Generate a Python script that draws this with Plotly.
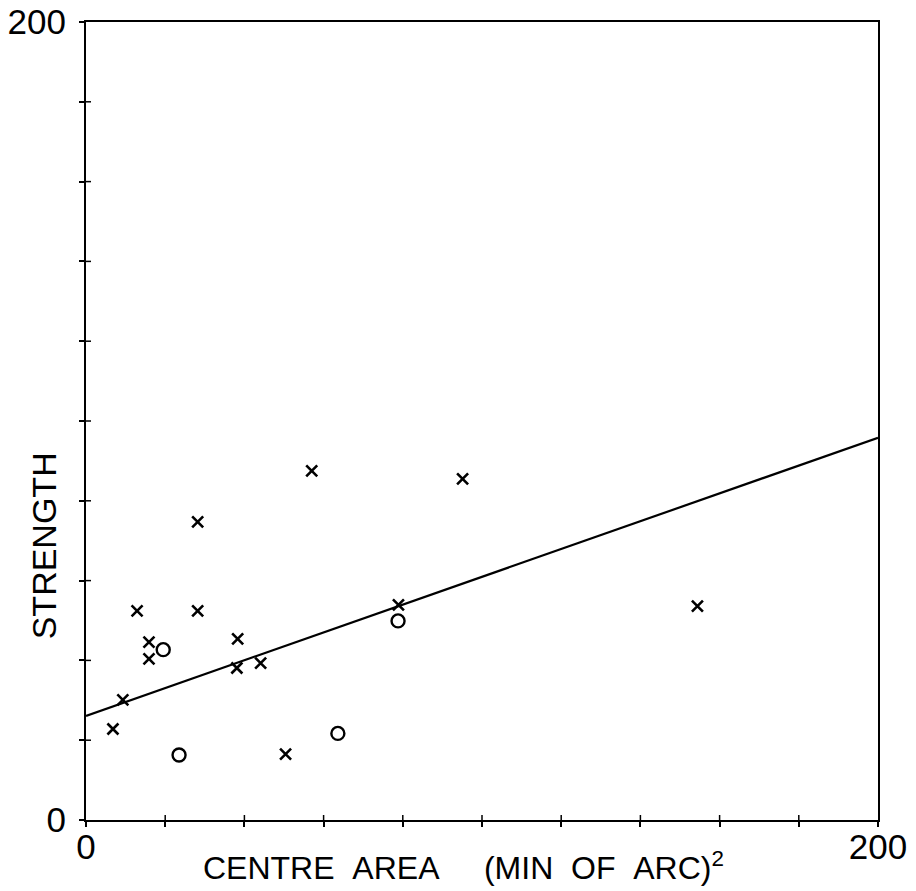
import plotly.graph_objects as go

# Cell measurements: centre area (min of arc)^2 vs strength
cross_area = [6.8, 9.3, 12.9, 15.9, 15.9, 28.2, 28.2, 38.3, 38.1, 44.1, 50.4, 57.0, 78.9, 95.1, 154.4]
cross_strength = [22.8, 30.1, 52.4, 44.6, 40.4, 74.7, 52.4, 45.4, 38.1, 39.3, 16.5, 87.5, 53.9, 85.5, 53.6]

circle_area = [19.5, 23.5, 63.6, 78.8]
circle_strength = [42.7, 16.3, 21.7, 49.9]

# Fitted regression line end points
fit_area = [0, 200]
fit_strength = [26.1, 95.8]

tick_vals = list(range(0, 201, 20))
tick_text = ["0"] + [""] * 9 + ["200"]

FONT = "Liberation Sans, Arial, sans-serif"
TICK_IN = 5  # inward half of the crossing tick marks, px

fig = go.Figure()
fig.add_trace(go.Scatter(x=fit_area, y=fit_strength, mode="lines",
                         line=dict(color="black", width=2.2), showlegend=False))
fig.add_trace(go.Scatter(x=cross_area, y=cross_strength, mode="markers",
                         marker=dict(symbol="x-thin-open", size=11, color="black",
                                     line=dict(color="black", width=2.6)),
                         showlegend=False))
fig.add_trace(go.Scatter(x=circle_area, y=circle_strength, mode="markers",
                         marker=dict(symbol="circle-open", size=13, color="black",
                                     line=dict(color="black", width=2.4)),
                         showlegend=False))

axis_common = dict(range=[0, 200], showgrid=False, zeroline=False,
                   linecolor="black", linewidth=2, ticks="outside", ticklen=5,
                   tickwidth=1.5, tickcolor="black", tickvals=tick_vals,
                   ticktext=tick_text, mirror=True, automargin=False)

fig.update_layout(
    width=916, height=891,
    margin=dict(l=86, r=38, t=22, b=71),
    paper_bgcolor="white", plot_bgcolor="white",
    font=dict(family=FONT, color="black"),
    xaxis=dict(**axis_common, tickfont=dict(size=35, family=FONT), ticklabelstandoff=-10),
    yaxis=dict(**axis_common, tickfont=dict(size=35, family=FONT), ticklabelstandoff=6),
)

# inward halves of the tick marks on the bottom and left axes
for v in tick_vals[1:-1]:
    fig.add_shape(type="line", xref="x", yref="paper", ysizemode="pixel",
                  yanchor=0, x0=v, x1=v, y0=0, y1=TICK_IN, layer="above",
                  line=dict(color="black", width=1.5))
    fig.add_shape(type="line", xref="paper", yref="y", xsizemode="pixel",
                  xanchor=0, x0=0, x1=TICK_IN, y0=v, y1=v, layer="above",
                  line=dict(color="black", width=1.5))

fig.add_annotation(text="CENTRE&nbsp;&nbsp;AREA&nbsp;&nbsp;&nbsp;&nbsp;&nbsp;(MIN&nbsp;&nbsp;OF&nbsp;&nbsp;ARC)<sup>2</sup>",
                   xref="paper", yref="paper", x=0.477, y=-0.058,
                   xanchor="center", yanchor="middle", showarrow=False,
                   font=dict(size=32, family=FONT))
fig.add_annotation(text="STRENGTH", textangle=-90,
                   xref="paper", yref="paper", x=-0.053, y=0.343,
                   xanchor="center", yanchor="middle", showarrow=False,
                   font=dict(size=34, family=FONT))

fig.write_html("out.html")
